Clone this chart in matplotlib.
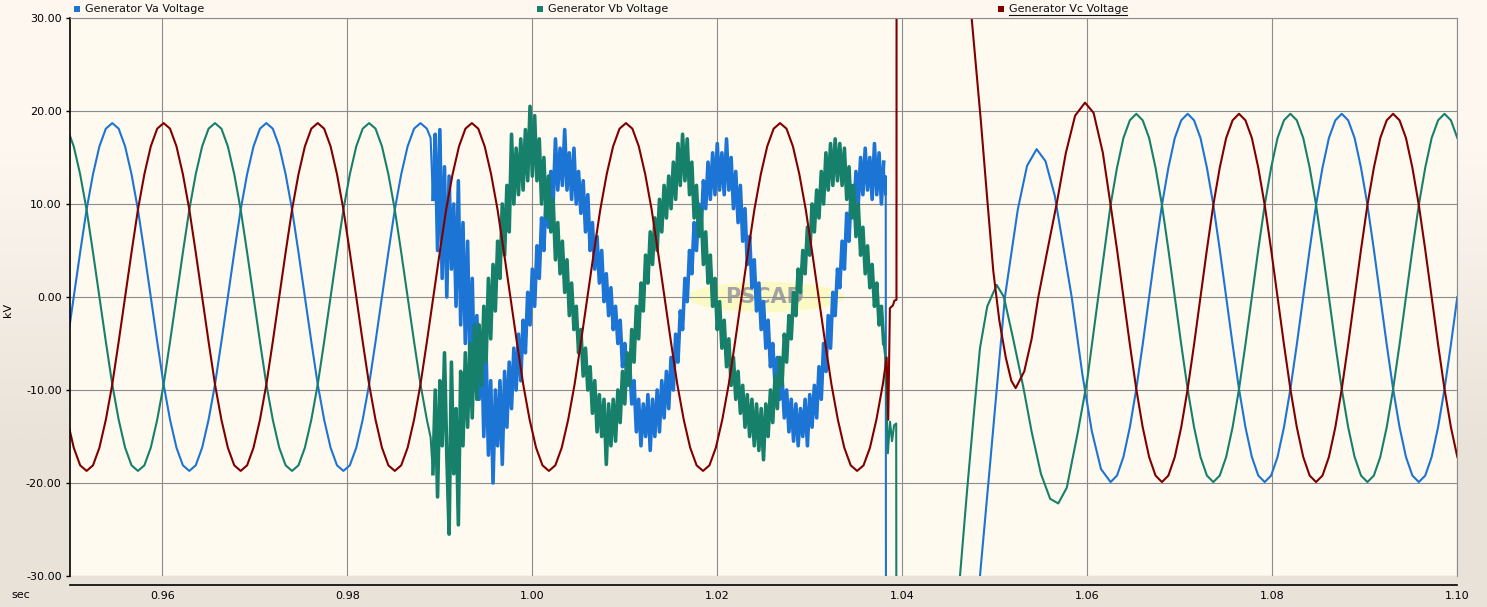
import numpy as np
import matplotlib
matplotlib.use('Agg')
import matplotlib.pyplot as plt
from matplotlib.patches import Ellipse, Rectangle
from matplotlib.lines import Line2D
from matplotlib.ticker import FormatStrFormatter, MultipleLocator
from matplotlib.colors import LinearSegmentedColormap

# sample grids (s): 15 degree steps at 60 Hz for the clean parts, 0.25 ms in the fault
DT_CLEAN = 1 / 1440
DT_FAULT = 0.00025
t_pre = 0.95457 + np.arange(-7, 50) * DT_CLEAN
t_red_pre = 0.95457 + np.arange(-7, 121) * DT_CLEAN
t_fault = 0.9890 + np.arange(197) * DT_FAULT
t_post = 1.07087 + np.arange(-12, 43) * DT_CLEAN

labels = ['Generator Va Voltage', 'Generator Vb Voltage', 'Generator Vc Voltage']
colors = ['#1C74D4', '#17806A', '#800000']

# ---- Va (kV) ----
va_pre = [-4.8, 0.0, 4.8, 9.4, 13.2, 16.2, 18.1,
          18.7, 18.1, 16.2, 13.2, 9.4, 4.8, 0.0, -4.8, -9.4, -13.2, -16.2, -18.1,
          -18.7, -18.1, -16.2, -13.2, -9.4, -4.8, 0.0, 4.8, 9.4, 13.2, 16.2, 18.1,
          18.7, 18.1, 16.2, 13.2, 9.4, 4.8, 0.0, -4.8, -9.4, -13.2, -16.2, -18.1,
          -18.7, -18.1, -16.2, -13.2, -9.4, -4.8, 0.0, 4.8, 9.4, 13.2, 16.2, 18.1,
          18.7, 18.1]
va_fault = [17.1,
            10.5, 17.5, 5, 18, 2, 14, 0, 13, 3, 10,
            -1, 12.5, -3, 8, -5, 6, -7, 2, -9, -2,
            -11, -4, -15, -6, -17, -9, -20, -10, -16, -9,
            -18, -8, -14, -7, -12, -5.5, -10, -4, -9, -2.5,
            -6, 0.5, -3, 3, -1, 5.5, 2, 8.5, 5, 11.5,
            7.5, 13.5, 10, 17, 11.5, 16, 12, 18, 11.5, 15.5,
            10.5, 16, 10, 13.5, 9, 12.5, 7, 11, 5, 8,
            3, 6.5, 1.5, 5, -0.5, 2.5, -2, 1, -3.5, -1,
            -5, -2.5, -7.5, -5, -9.5, -6.5, -11.5, -9, -14.5, -11,
            -16, -11.5, -15, -10.5, -16.5, -11, -15, -10, -14.5, -9,
            -13, -8, -12, -6.5, -10, -4, -7, -1.5, -3.5, 2,
            -0.5, 5, 2.5, 8, 5, 10, 7, 12.5, 9.5, 14.5,
            10.5, 15.5, 11, 16.5, 11.5, 15.5, 11, 17, 11.5, 15,
            9.5, 13.5, 8, 12, 6, 9.5, 3.5, 6.5, 1, 4,
            -1.5, 1.5, -3.5, -0.5, -5.5, -2.5, -7.5, -5, -9.5, -6.5,
            -11, -8.5, -13, -10, -14.5, -11, -15.5, -11.5, -16, -12,
            -15, -11, -16, -10.5, -14, -9.5, -13, -7.5, -11, -5,
            -8, -2, -5.5, 0.5, -2, 3, 1, 6, 3, 9,
            6, 12, 8.5, 13.5, 10, 15, 11, 16, 11.5, 15,
            10.5, 16.5, 11, 15.5, 10, 14.5]
va_tail_t = [1.03815, 1.03822, 1.03826, 1.0470, 1.04841, 1.0495, 1.05111, 1.0525,
             1.0535, 1.05454, 1.0555, 1.0565, 1.05833, 1.0595, 1.0605, 1.0615]
va_tail = [11, 13, -70, -60, -30, -18, 0, 9.4,
           14.1, 15.9, 14.6, 10.9, 0, -8.4, -14.4, -18.5]
va_post = [-19.9, -19.2, -17.2, -14.0, -9.9, -5.1, 0.0, 5.1, 9.9, 13.9, 17.1, 19.0,
           19.7, 19.0, 17.1, 13.9, 9.9, 5.1, 0.0, -5.1, -9.9, -14.0, -17.2, -19.2,
           -19.9, -19.2, -17.2, -14.0, -9.9, -5.1, 0.0, 5.1, 9.9, 13.9, 17.1, 19.0,
           19.7, 19.0, 17.1, 13.9, 9.9, 5.1, 0.0, -5.1, -9.9, -14.0, -17.2, -19.2,
           -19.9, -19.2, -17.2, -14.0, -9.9, -5.1, 0.0]

# ---- Vb (kV) ----
vb_pre = [18.1, 16.2, 13.2, 9.4, 4.8, 0.0, -4.8, -9.4, -13.2, -16.2, -18.1,
          -18.7, -18.1, -16.2, -13.2, -9.4, -4.8, 0.0, 4.8, 9.4, 13.2, 16.2, 18.1,
          18.7, 18.1, 16.2, 13.2, 9.4, 4.8, 0.0, -4.8, -9.4, -13.2, -16.2, -18.1,
          -18.7, -18.1, -16.2, -13.2, -9.4, -4.8, 0.0, 4.8, 9.4, 13.2, 16.2, 18.1,
          18.7, 18.1, 16.2, 13.2, 9.4, 4.8, 0.0, -4.8, -9.4, -13.2]
vb_fault = [-15.1,
            -19, -10, -21.5, -9, -16, -6, -17, -25.5, -7, -19,
            -12, -24.5, -8, -16, -6, -14, -5, -13, -3, -11,
            -3, -9.5, -1, -7, 2, -4.5, 3.5, -1.5, 6, 2,
            10, 4.5, 12, 7, 17.5, 10, 16, 11, 17, 11.5,
            18, 12.5, 20.5, 13, 19.5, 12.5, 17, 10, 15, 8.5,
            13, 7, 10.5, 4, 8, 2.5, 6, 0.5, 4, -2,
            1.5, -3.5, -1, -6, -3.5, -8.5, -5.5, -10, -7.5, -12.5,
            -9, -14.5, -10.5, -15, -11, -18, -11.5, -16, -11, -15.5,
            -10, -13.5, -8, -11.5, -6, -9.5, -3.5, -7, -1, -4.5,
            1.5, -1.5, 4.5, 1.5, 7, 3.5, 8.5, 5, 10.5, 7,
            12, 8.5, 13, 9.5, 14.5, 10.5, 16.5, 12, 17.5, 12.5,
            17, 11, 14.5, 8.5, 12, 6.5, 9.5, 3.5, 7, 1.5,
            4.5, -1, 2, -3.5, -0.5, -5.5, -2.5, -7.5, -4.5, -9.5,
            -6.5, -11, -8, -12.5, -9.5, -14, -10.5, -15, -11, -16,
            -11.5, -16.5, -12, -17.5, -11.5, -15, -10, -13.5, -8.5, -12,
            -6.5, -9.5, -4, -7, -2, -4.5, 0.5, -2, 3, 0.5,
            5, 2.5, 7.5, 4.5, 10, 7, 11.5, 8.5, 13.5, 10,
            15.5, 11.5, 16.5, 12, 17, 12.5, 16.5, 12, 16, 10.5,
            14, 8.5, 12, 6.5, 10, 4.5, 7.5, 2.5, 5.5, 1,
            3.5, -1, 1.5, -3, -1, -5]
vb_tail_t = [1.03815, 1.03845, 1.03868, 1.03890, 1.03912, 1.03935, 1.03940,
             1.0455, 1.04625, 1.0470, 1.0478, 1.04841, 1.0492, 1.05022, 1.0510,
             1.0520, 1.0531, 1.0540, 1.0550, 1.0560, 1.05688, 1.0578, 1.0590,
             1.0600, 1.0612]
vb_tail = [-6.3, -16.8, -13.4, -15.5, -13.8, -13.6, -70,
           -45, -30, -21, -12, -5.5, -1, 1.3, 0,
           -4.5, -9.7, -14.5, -19, -21.7, -22.2, -20.5, -14.5,
           -9, 0]
vb_post = [9.9, 13.9, 17.1, 19.0,
           19.7, 19.0, 17.1, 13.9, 9.9, 5.1, 0.0, -5.1, -9.9, -14.0, -17.2, -19.2,
           -19.9, -19.2, -17.2, -14.0, -9.9, -5.1, 0.0, 5.1, 9.9, 13.9, 17.1, 19.0,
           19.7, 19.0, 17.1, 13.9, 9.9, 5.1, 0.0, -5.1, -9.9, -14.0, -17.2, -19.2,
           -19.9, -19.2, -17.2, -14.0, -9.9, -5.1, 0.0, 5.1, 9.9, 13.9, 17.1, 19.0,
           19.7, 19.0, 17.1]

# ---- Vc (kV) ----
vc_pre = [-13.2, -16.2, -18.1, -18.7, -18.1, -16.2, -13.2, -9.4, -4.8, 0.0, 4.8, 9.4, 13.2, 16.2, 18.1,
          18.7, 18.1, 16.2, 13.2, 9.4, 4.8, 0.0, -4.8, -9.4, -13.2, -16.2, -18.1,
          -18.7, -18.1, -16.2, -13.2, -9.4, -4.8, 0.0, 4.8, 9.4, 13.2, 16.2, 18.1,
          18.7, 18.1, 16.2, 13.2, 9.4, 4.8, 0.0, -4.8, -9.4, -13.2, -16.2, -18.1,
          -18.7, -18.1, -16.2, -13.2, -9.4, -4.8, 0.0, 4.8, 9.4, 13.2, 16.2, 18.1,
          18.7, 18.1, 16.2, 13.2, 9.4, 4.8, 0.0, -4.8, -9.4, -13.2, -16.2, -18.1,
          -18.7, -18.1, -16.2, -13.2, -9.4, -4.8, 0.0, 4.8, 9.4, 13.2, 16.2, 18.1,
          18.7, 18.1, 16.2, 13.2, 9.4, 4.8, 0.0, -4.8, -9.4, -13.2, -16.2, -18.1,
          -18.7, -18.1, -16.2, -13.2, -9.4, -4.8, 0.0, 4.8, 9.4, 13.2, 16.2, 18.1,
          18.7, 18.1, 16.2, 13.2, 9.4, 4.8, 0.0, -4.8, -9.4, -13.2, -16.2, -18.1,
          -18.7, -18.1, -16.2, -13.2, -9.4]
vc_tail_t = [1.03832, 1.03849, 1.03867, 1.03900, 1.03915, 1.03938, 1.03940,
             1.0465, 1.04751, 1.0485, 1.0492, 1.04985, 1.0505, 1.0512, 1.0518,
             1.05227, 1.0532, 1.0540, 1.05472, 1.0557, 1.0567, 1.0577, 1.0587,
             1.05977, 1.0607, 1.0617]
vc_tail = [-6.5, -13.2, -1.2, -0.9, -0.4, -0.3, 60,
           42, 30, 19, 10.5, 2.8, -2.5, -6.5, -9,
           -9.8, -8, -4.5, 0, 5, 10, 15.5, 19.5,
           20.9, 19.8, 15.5]
vc_post = [9.9, 5.1, 0.0, -5.1, -9.9, -14.0, -17.2, -19.2,
           -19.9, -19.2, -17.2, -14.0, -9.9, -5.1, 0.0, 5.1, 9.9, 13.9, 17.1, 19.0,
           19.7, 19.0, 17.1, 13.9, 9.9, 5.1, 0.0, -5.1, -9.9, -14.0, -17.2, -19.2,
           -19.9, -19.2, -17.2, -14.0, -9.9, -5.1, 0.0, 5.1, 9.9, 13.9, 17.1, 19.0,
           19.7, 19.0, 17.1, 13.9, 9.9, 5.1, 0.0, -5.1, -9.9, -14.0, -17.2]

series = [
    (np.concatenate([t_pre, t_fault, va_tail_t, t_post]),
     np.concatenate([va_pre, va_fault, va_tail, va_post])),
    (np.concatenate([t_pre, t_fault, vb_tail_t, t_post]),
     np.concatenate([vb_pre, vb_fault, vb_tail, vb_post])),
    (np.concatenate([t_red_pre, vc_tail_t, t_post]),
     np.concatenate([vc_pre, vc_tail, vc_post])),
]
fault_parts = [va_fault, vb_fault, None]

W, H = 1487, 607
fig = plt.figure(figsize=(W / 100, H / 100), dpi=100)

# window background gradient
bg = fig.add_axes([0, 0, 1, 1], zorder=-10)
cmap = LinearSegmentedColormap.from_list('bg', ['#FDF7F0', '#E9E2D8'])
bg.imshow([[0.0], [1.0]], cmap=cmap, aspect='auto', interpolation='bilinear',
          extent=[0, 1, 0, 1])
bg.set_axis_off()

ax = fig.add_axes([70 / W, 31 / H, 1387 / W, 558 / H])
ax.set_facecolor('#FFFAF0')
ax.set_xlim(0.95, 1.10)
ax.set_ylim(-30, 30)
ax.xaxis.set_major_locator(MultipleLocator(0.02))
ax.yaxis.set_major_locator(MultipleLocator(10))
ax.xaxis.set_major_formatter(FormatStrFormatter('%.2f'))
ax.yaxis.set_major_formatter(FormatStrFormatter('%.2f'))
ax.grid(True, color='#8C8C8C', lw=0.8)

for s in ['top', 'right']:
  ax.spines[s].set_color('#8C8C8C')
  ax.spines[s].set_linewidth(0.8)
ax.spines['left'].set_color('black')
ax.spines['left'].set_linewidth(1.2)
ax.spines['bottom'].set_position(('outward', 6.5))
ax.spines['bottom'].set_color('black')
ax.spines['bottom'].set_linewidth(1.2)
ax.tick_params(axis='y', length=3, width=1, pad=3, labelsize=8, colors='black')
ax.tick_params(axis='x', length=0, pad=4.5, labelsize=8, colors='black')

# PSCAD watermark
ax.add_patch(Ellipse((0.5018, 0.5), 0.113, 0.054, transform=ax.transAxes,
                     facecolor='#FCFAC4', edgecolor='none', zorder=1.1))
ax.text(0.501, 0.5, 'PSCAD', transform=ax.transAxes, ha='center', va='center',
        fontsize=15, fontweight='bold', color='#A3A3A3', zorder=1.2)

for i, ((t, v), c) in enumerate(zip(series, colors)):
  ax.plot(t, v, color=c, lw=1.5, zorder=2 + i * 0.1)
  if fault_parts[i] is not None:
    # noisy stretch drawn heavier so the ripple reads as a solid band
    ax.plot(t_fault[1:], fault_parts[i][1:], color=c, lw=2.6, zorder=2 + i * 0.1)

# axis captions and legend strip
fig.text(8 / W, 1 - 310 / H, 'kV', rotation=90, ha='center', va='center', fontsize=8)
fig.text(21 / W, 1 - 595 / H, 'sec', ha='center', va='center', fontsize=8)
for lbl, c, x0 in zip(labels, colors, [74, 537, 998]):
  fig.add_artist(Rectangle((x0 / W, 1 - 12 / H), 6 / W, 6 / H, transform=fig.transFigure,
                           facecolor=c, edgecolor='none'))
  fig.text((x0 + 11) / W, 1 - 9.5 / H, lbl, ha='left', va='center', fontsize=8, color='#111111')
fig.add_artist(Line2D([1009 / W, 1127 / W], [1 - 15 / H, 1 - 15 / H],
                      transform=fig.transFigure, color='#111111', lw=0.8))

plt.savefig('out.png', dpi=100, facecolor=fig.get_facecolor())
